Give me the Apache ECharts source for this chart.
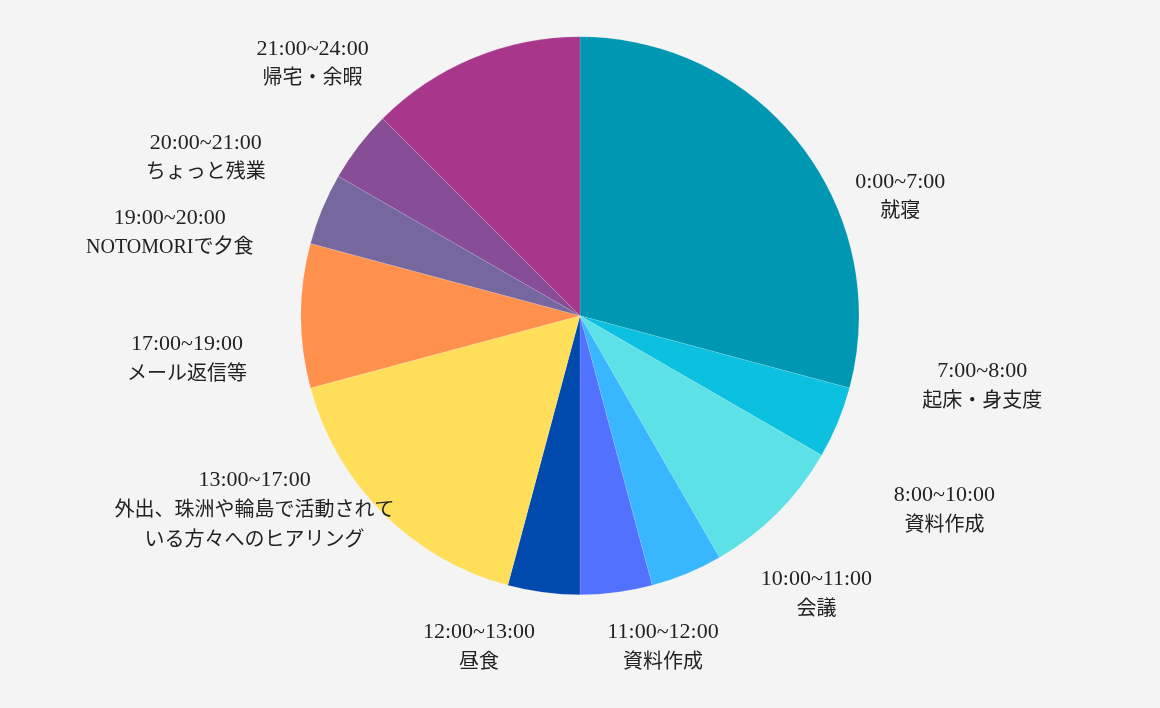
<!DOCTYPE html>
<html>

<head>
    <meta charset="utf-8">
    <title>一日のスケジュール</title>
    <script src="https://cdn.jsdelivr.net/npm/echarts@6/dist/echarts.min.js"></script>
    <style>
        html, body {
            margin: 0;
            padding: 0;
            background: #f4f4f4;
        }

        #main {
            width: 1160px;
            height: 708px;
        }
    </style>
</head>

<body>
    <div id="main"></div>
    <script>
        // 時間帯と内容（時間数）
        var timeRanges = ['0:00~7:00', '7:00~8:00', '8:00~10:00', '10:00~11:00', '11:00~12:00',
            '12:00~13:00', '13:00~17:00', '17:00~19:00', '19:00~20:00', '20:00~21:00', '21:00~24:00'];
        var activities = ['就寝', '起床・身支度', '資料作成', '会議', '資料作成', '昼食',
            '外出、珠洲や輪島で活動されて\nいる方々へのヒアリング', 'メール返信等', 'NOTOMORIで夕食',
            'ちょっと残業', '帰宅・余暇'];
        var hours = [7, 1, 2, 1, 1, 1, 4, 2, 1, 1, 3];

        var colors = ['#0097b2', '#0cc0df', '#5ce1e6', '#38b6ff', '#5271ff', '#004aad',
            '#ffde59', '#ff914d', '#76689f', '#874d97', '#a8368b'];

        // ラベル位置の微調整（ライブラリの位置からのずれ）
        var labelNudge = [[83, 64], [126, -43], [153, -16], [122, 3], [44, 36], [-62, 36],
            [-114, -16], [-94, 44], [-134, 32], [-137, 25], [-153, 25]];

        var pieData = hours.map(function (h, i) {
            return { name: timeRanges[i], value: h, itemStyle: { color: colors[i] } };
        });

        var myChart = echarts.init(document.getElementById('main'));
        var option = {
            backgroundColor: '#f4f4f4',
            animation: false,
            series: [
                {
                    type: 'pie',
                    center: ['50%', '44.6%'],
                    radius: 279,
                    startAngle: 90,
                    avoidLabelOverlap: false,
                    data: pieData,
                    itemStyle: {
                        borderColor: 'rgba(255,255,255,0.25)',
                        borderWidth: 0.5
                    },
                    label: {
                        position: 'outside',
                        distanceToLabelLine: 0,
                        color: '#222',
                        formatter: function (p) {
                            var lines = activities[p.dataIndex].split('\n').map(function (s) {
                                return '{a|' + s + '}';
                            });
                            return '{t|' + p.name + '}\n' + lines.join('\n');
                        },
                        rich: {
                            t: {
                                fontFamily: 'Liberation Serif',
                                fontSize: 22,
                                lineHeight: 30,
                                color: '#222',
                                align: 'center'
                            },
                            a: {
                                fontFamily: '"Liberation Serif", "Noto Sans CJK JP"',
                                fontSize: 20,
                                lineHeight: 30,
                                color: '#222',
                                align: 'center'
                            }
                        }
                    },
                    labelLine: {
                        show: false,
                        length: 20,
                        length2: 0
                    },
                    labelLayout: function (p) {
                        var r = p.labelRect;
                        var ax = r.x + r.width / 2;
                        if (p.align === 'left') ax = r.x;
                        if (p.align === 'right') ax = r.x + r.width;
                        var ay = r.y + r.height / 2;
                        var n = labelNudge[p.dataIndex];
                        return {
                            x: ax + n[0],
                            y: ay + n[1],
                            align: 'center',
                            verticalAlign: 'middle'
                        };
                    },
                    emphasis: {
                        disabled: true
                    }
                }
            ]
        };

        option && myChart.setOption(option);
    </script>
</body>

</html>
